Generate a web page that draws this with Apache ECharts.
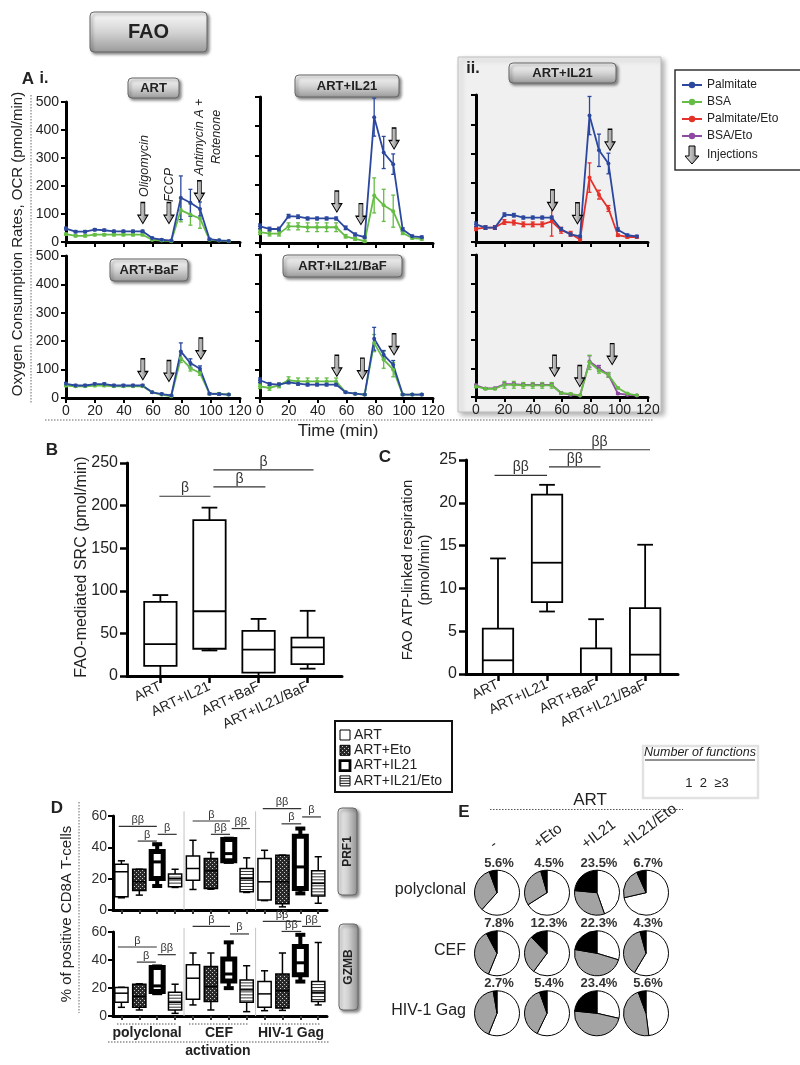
<!DOCTYPE html>
<html>
<head>
<meta charset="utf-8">
<script src="https://cdn.jsdelivr.net/npm/echarts@6/dist/echarts.min.js"></script>
<style>
html, body { margin: 0; padding: 0; background: #fff; }
#c { width: 800px; height: 1065px; }
</style>
</head>
<body>
<div id="c"></div>
<script>
// ---- A: OCR time courses (pmol/min) ----
var time = [0, 6.6, 13.2, 19.8, 26.4, 33, 39.6, 46.2, 52.8, 59.4, 66, 72.6, 79.2, 85.8, 92.4, 99, 105.6, 112.2];

var artPalm    = [48, 37, 37, 44, 42, 38, 38, 38, 38, 14, 8, 5, 158, 140, 118, 10, 6, 4];
var artPalmErr = [5, 4, 4, 4, 4, 4, 4, 4, 4, 3, 3, 2, 78, 48, 25, 3, 3, 2];
var artBsa     = [28, 22, 22, 26, 26, 26, 26, 26, 26, 8, 5, 3, 114, 98, 84, 8, 5, 3];
var artBsaErr  = [4, 4, 4, 4, 4, 4, 4, 4, 4, 3, 2, 2, 42, 38, 35, 3, 2, 2];

var il21Palm    = [57, 48, 48, 92, 90, 84, 84, 84, 84, 52, 29, 20, 431, 310, 270, 46, 23, 20];
var il21PalmErr = [8, 6, 6, 6, 6, 5, 5, 5, 5, 6, 5, 4, 65, 55, 35, 6, 4, 4];
var il21Bsa     = [37, 32, 32, 57, 57, 54, 54, 54, 54, 23, 14, 6, 163, 129, 109, 34, 17, 14];
var il21BsaErr  = [8, 8, 8, 12, 12, 15, 15, 15, 15, 6, 5, 4, 60, 55, 55, 5, 4, 4];

var iiPalm       = [60, 49, 49, 93, 91, 83, 83, 83, 83, 43, 26, 19, 430, 312, 267, 42, 23, 19];
var iiPalmErr    = [8, 6, 6, 6, 6, 5, 5, 5, 5, 6, 5, 4, 65, 55, 35, 6, 4, 4];
var iiPalmEto    = [45, 49, 49, 68, 66, 60, 60, 60, 70, 40, 28, 9, 219, 161, 114, 23, 17, 17];
var iiPalmEtoErr = [6, 6, 6, 8, 8, 8, 8, 8, 50, 10, 8, 5, 50, 15, 10, 4, 4, 4];

var bafPalm    = [50, 44, 44, 49, 49, 44, 44, 44, 44, 20, 14, 9, 164, 123, 103, 15, 14, 12];
var bafPalmErr = [5, 4, 4, 4, 4, 4, 4, 4, 4, 3, 3, 3, 30, 15, 10, 3, 4, 3];
var bafBsa     = [44, 41, 41, 44, 44, 41, 41, 41, 41, 20, 12, 6, 140, 105, 88, 15, 15, 12];
var bafBsaErr  = [4, 3, 3, 4, 4, 3, 3, 3, 3, 3, 3, 2, 15, 10, 8, 3, 3, 2];

var il21bafPalm    = [62, 49, 47, 55, 50, 47, 47, 47, 47, 20, 15, 12, 207, 151, 116, 12, 12, 12];
var il21bafPalmErr = [8, 5, 5, 5, 5, 5, 5, 5, 5, 3, 3, 3, 40, 15, 15, 3, 3, 3];
var il21bafBsa     = [41, 35, 44, 62, 58, 58, 58, 58, 58, 20, 15, 12, 192, 134, 99, 12, 12, 12];
var il21bafBsaErr  = [8, 8, 8, 12, 12, 12, 12, 12, 12, 3, 3, 3, 30, 30, 25, 3, 3, 3];

var iiBsa       = [37, 29, 29, 43, 43, 41, 41, 41, 41, 14, 11, 5, 122, 94, 78, 32, 12, 6];
var iiBsaErr    = [4, 3, 3, 12, 12, 10, 10, 10, 10, 3, 3, 2, 25, 10, 8, 3, 3, 2];
var iiBsaEto    = [41, 30, 31, 45, 45, 43, 43, 43, 43, 14, 8, 5, 125, 101, 78, 12, 8, 5];
var iiBsaEtoErr = [4, 3, 3, 5, 5, 5, 5, 5, 5, 3, 3, 2, 20, 10, 8, 3, 3, 2];

// injection arrows: [time, arrow tip OCR]
var artArrows     = [[53, 66], [71, 66], [92, 144]];
var il21Arrows    = [[53.3, 106], [70, 63], [93, 322]];
var iiTopArrows   = [[53.4, 106], [70.8, 62], [93.5, 312]];
var bafArrows     = [[53, 64], [71, 58], [93, 137]];
var il21bafArrows = [[53.3, 76], [71, 66], [93, 151]];
var iiBotArrows   = [[54.8, 73], [72.4, 37], [95, 114]];

// ---- B / C: box plots [min, q1, median, q3, max] ----
var bcCategories = ['ART', 'ART+IL21', 'ART+BaF', 'ART+IL21/BaF'];
var srcBoxes = [[0, 12, 37.5, 87, 95], [30, 32, 76, 183, 197.6], [0, 4, 31, 53, 67], [8.6, 14, 33.6, 45, 76.5]];
var atpBoxes = [[0, 0, 1.6, 5.3, 13.5], [7.3, 8.4, 13, 20.95, 22.1], [0, 0, 0, 3, 6.4], [0, 0, 2.26, 7.7, 15.1]];
// brackets: [from, to, level]
var srcBrackets = [[0.98, 2.02, 211], [2.08, 3.14, 222], [2.08, 4.12, 242]];
var srcBracketText = ['β', 'β', 'β'];
var atpBrackets = [[0.93, 2.0, 23.2], [2.04, 3.09, 24.2], [2.04, 4.1, 26.2]];
var atpBracketText = ['ββ', 'ββ', 'ββ'];

// ---- D: % positive CD8A T-cells ----
var dGroups = ['polyclonal', 'CEF', 'HIV-1 Gag'];
var dTreatments = ['ART', 'ART+Eto', 'ART+IL21', 'ART+IL21/Eto'];
var prf1Boxes = [
  [7.8, 8.5, 24.4, 29.2, 31.4], [9.5, 12.5, 18, 26, 26], [15.3, 20.1, 30.7, 37.3, 42], [14.4, 14.8, 20, 22.9, 26],
  [13.1, 19, 26.5, 34.5, 44.5], [13.3, 13.8, 25, 32.8, 36.7], [30.7, 31.4, 36, 45, 45.5], [11.2, 11.7, 20, 26.5, 33.3],
  [6, 6.4, 18, 32.8, 38.1], [2, 4, 18, 35, 35], [10.6, 13.8, 27.5, 47, 52], [4.3, 8.9, 17, 25, 34]
];
var gzmbBoxes = [
  [6.2, 9.8, 16.3, 20.3, 20.5], [4.3, 6.2, 14, 22.7, 23], [16.3, 17.5, 21.5, 34.7, 35.4], [1.9, 4.3, 9.8, 17, 22.7],
  [7.9, 12, 27, 36.6, 45], [4.3, 10.3, 21, 35.4, 45], [19.9, 25, 30, 40.7, 52.6], [3.1, 9.8, 18.7, 25.8, 35.9],
  [3.8, 6.2, 15.8, 24.6, 32.3], [4, 5.7, 18, 30, 45], [24.6, 29.4, 38, 49.7, 58], [7.9, 10.3, 17, 24.6, 52.5]
];
var prf1Brackets = [[0.85, 2.98, 53.4], [1.91, 2.98, 44], [3.03, 4.09, 48.3], [4.98, 7.07, 56.8], [6.0, 7.07, 48.3], [7.16, 8.18, 52],
  [8.9, 11.05, 64.7], [9.95, 11.05, 55], [11.1, 12.15, 59.4]];
var prf1BracketText = ['ββ', 'β', 'β', 'β', 'ββ', 'ββ', 'ββ', 'β', 'β'];
var gzmbBrackets = [[0.8, 2.98, 49.3], [1.86, 2.92, 38.5], [3.03, 4.04, 43.8], [4.98, 7.07, 64], [7.07, 8.13, 58.6],
  [8.9, 11.05, 67.6], [9.95, 11.05, 60.4], [11.1, 12.15, 64]];
var gzmbBracketText = ['β', 'β', 'ββ', 'β', 'β', 'ββ', 'ββ', 'ββ'];

// ---- E: number of functions (% of cells) ----
var eRows = ['polyclonal', 'CEF', 'HIV-1 Gag'];
var eCols = ['-', '+Eto', '+IL21', '+IL21/Eto'];
var eOne   = [[61.6, 66, 44.6, 71.4], [56.2, 60.1, 29.7, 58.6], [56.1, 57.2, 28.6, 48]];
var eTwo   = [[32.8, 29.5, 31.9, 21.9], [36, 27.6, 48, 37.1], [41.2, 37.4, 48, 46.4]];
var eThree = [[5.6, 4.5, 23.5, 6.7], [7.8, 12.3, 22.3, 4.3], [2.7, 5.4, 23.4, 5.6]];

// ---------------------------------------------------------------
var FONT = '"Liberation Sans", Arial, sans-serif';
var BLUE = '#2b489e', GREEN = '#66bd46', RED = '#e4312a', PURPLE = '#8e4aa2';
var ARROW = 'path://M3,0L7,0L7,12L10,12L5,20L0,12L3,12Z';

var chart = echarts.init(document.getElementById('c'));

var checkCanvas = document.createElement('canvas');
checkCanvas.width = 4; checkCanvas.height = 4;
(function () {
  var c = checkCanvas.getContext('2d');
  c.fillStyle = '#2a2a2a'; c.fillRect(0, 0, 4, 4);
  c.fillStyle = '#c8c8c8'; c.fillRect(0, 0, 1, 1); c.fillRect(2, 2, 1, 1);
})();

function arrowFill() {
  return new echarts.graphic.LinearGradient(0, 0, 1, 0, [
    {offset: 0, color: '#eeeeee'}, {offset: 0.5, color: '#b5b5b5'}, {offset: 1, color: '#6e6e6e'}]);
}

var grids = [], xAxes = [], yAxes = [], series = [];

// A grids (pixel layout)
var gridsA = [
  {left: 66, top: 102, width: 174, height: 140},
  {left: 260, top: 97, width: 173, height: 146},
  {left: 476, top: 95, width: 172, height: 147},
  {left: 66, top: 256, width: 174, height: 142},
  {left: 260, top: 255, width: 173, height: 143},
  {left: 476, top: 255, width: 172, height: 142}
];
gridsA.forEach(function (gr, i) {
  grids.push(gr);
  xAxes.push({gridIndex: i, type: 'value', min: 0, max: 120, interval: 20,
    axisLine: {onZero: false, lineStyle: {color: '#000', width: 3}},
    axisTick: {length: 5, lineStyle: {color: '#000', width: 2}},
    axisLabel: {show: i >= 3, fontSize: 14, color: '#222', fontFamily: FONT, margin: 6},
    splitLine: {show: false}});
  yAxes.push({gridIndex: i, type: 'value', min: 0, max: 500, interval: 100,
    axisLine: {show: true, lineStyle: {color: '#000', width: 3}},
    axisTick: {show: true, length: 5, lineStyle: {color: '#000', width: 2}},
    axisLabel: {show: i === 0 || i === 3, fontSize: 14, color: '#222', fontFamily: FONT, margin: 7},
    splitLine: {show: false}});
});

function errRender(color) {
  return function (params, api) {
    var x = api.value(0), y = api.value(1), e = api.value(2);
    var top = api.coord([x, y + e]), bot = api.coord([x, Math.max(0, y - e)]);
    var st = {stroke: color, lineWidth: 1.3};
    return {type: 'group', children: [
      {type: 'line', shape: {x1: top[0], y1: top[1], x2: bot[0], y2: bot[1]}, style: st},
      {type: 'line', shape: {x1: top[0] - 2, y1: top[1], x2: top[0] + 2, y2: top[1]}, style: st},
      {type: 'line', shape: {x1: bot[0] - 2, y1: bot[1], x2: bot[0] + 2, y2: bot[1]}, style: st}
    ]};
  };
}

function addTrace(g, vals, errs, color) {
  series.push({type: 'custom', xAxisIndex: g, yAxisIndex: g, silent: true, z: 3,
    renderItem: errRender(color),
    data: time.map(function (t, i) { return [t, vals[i], errs[i]]; })});
  series.push({type: 'line', xAxisIndex: g, yAxisIndex: g, silent: true, z: 4,
    data: time.map(function (t, i) { return [t, vals[i]]; }),
    symbol: 'circle', symbolSize: 4, lineStyle: {color: color, width: 1.8}, itemStyle: {color: color}});
}

function addArrows(g, pts) {
  series.push({type: 'scatter', xAxisIndex: g, yAxisIndex: g, silent: true, z: 6,
    data: pts, symbol: ARROW, symbolSize: [10, 21], symbolOffset: [0, '-50%'],
    itemStyle: {color: arrowFill(), borderColor: '#000', borderWidth: 1, opacity: 1}});
}

addTrace(0, artBsa, artBsaErr, GREEN); addTrace(0, artPalm, artPalmErr, BLUE); addArrows(0, artArrows);
addTrace(1, il21Bsa, il21BsaErr, GREEN); addTrace(1, il21Palm, il21PalmErr, BLUE); addArrows(1, il21Arrows);
addTrace(2, iiPalmEto, iiPalmEtoErr, RED); addTrace(2, iiPalm, iiPalmErr, BLUE); addArrows(2, iiTopArrows);
addTrace(3, bafBsa, bafBsaErr, GREEN); addTrace(3, bafPalm, bafPalmErr, BLUE); addArrows(3, bafArrows);
addTrace(4, il21bafBsa, il21bafBsaErr, GREEN); addTrace(4, il21bafPalm, il21bafPalmErr, BLUE); addArrows(4, il21bafArrows);
addTrace(5, iiBsaEto, iiBsaEtoErr, PURPLE); addTrace(5, iiBsa, iiBsaErr, GREEN); addArrows(5, iiBotArrows);

// ---- box plot helpers ----
function boxRender(widthU, capU, lw, kinds) {
  return function (params, api) {
    var x = api.value(0);
    var kind = kinds ? kinds[params.dataIndex % 4] : 'plain';
    var p = [1, 2, 3, 4, 5].map(function (d) { return api.coord([x, api.value(d)]); });
    var half = api.size([widthU, 0])[0] / 2, cap = api.size([capU, 0])[0] / 2;
    var cx = p[0][0];
    var w = lw;
    if (kind === 'bold') { w = 5; half = 6; cap = 5; }
    var st = {stroke: '#000', lineWidth: kind === 'bold' ? 4 : w};
    var fill = kind === 'check' ? {image: checkCanvas, repeat: 'repeat'} : '#fff';
    var ch = [
      {type: 'line', shape: {x1: cx, y1: p[3][1], x2: cx, y2: p[4][1]}, style: st},
      {type: 'line', shape: {x1: cx - cap, y1: p[4][1], x2: cx + cap, y2: p[4][1]}, style: st},
      {type: 'line', shape: {x1: cx, y1: p[1][1], x2: cx, y2: p[0][1]}, style: st},
      {type: 'line', shape: {x1: cx - cap, y1: p[0][1], x2: cx + cap, y2: p[0][1]}, style: st},
      {type: 'rect', shape: {x: cx - half, y: p[3][1], width: 2 * half, height: p[1][1] - p[3][1]},
        style: {fill: fill, stroke: '#000', lineWidth: w}}
    ];
    if (kind === 'stripe') {
      for (var yy = p[3][1] + 3; yy < p[1][1] - 1; yy += 3) {
        ch.push({type: 'line', shape: {x1: cx - half, y1: yy, x2: cx + half, y2: yy}, style: {stroke: '#000', lineWidth: 0.8}});
      }
    }
    ch.push({type: 'line', shape: {x1: cx - half, y1: p[2][1], x2: cx + half, y2: p[2][1]},
      style: {stroke: '#000', lineWidth: kind === 'bold' ? 3 : lw}});
    return {type: 'group', children: ch};
  };
}

function bracketRender(labels, fs) {
  return function (params, api) {
    var a = api.coord([api.value(0), api.value(2)]), b = api.coord([api.value(1), api.value(2)]);
    return {type: 'group', children: [
      {type: 'line', shape: {x1: a[0], y1: a[1], x2: b[0], y2: b[1]}, style: {stroke: '#333', lineWidth: 1.2}},
      {type: 'text', x: (a[0] + b[0]) / 2, y: a[1] - 1,
        style: {text: labels[params.dataIndex], textAlign: 'center', textVerticalAlign: 'bottom',
          fontSize: fs, fontFamily: FONT, fill: '#333'}}
    ]};
  };
}

function boxData(boxes) {
  return boxes.map(function (b, i) { return [i + 1].concat(b); });
}

// B (grid 6) and C (grid 7)
grids.push({left: 127, top: 463, width: 215, height: 213});
grids.push({left: 466, top: 460, width: 212, height: 214});
[[6, 0.32, 4.7, 250, 50], [7, 0.348, 4.67, 25, 5]].forEach(function (c) {
  xAxes.push({gridIndex: c[0], type: 'value', min: c[1], max: c[2],
    axisLine: {onZero: false, lineStyle: {color: '#000', width: 3}},
    axisTick: {customValues: [1, 2, 3, 4], length: 7, lineStyle: {color: '#000', width: 2.5}},
    axisLabel: {customValues: [1, 2, 3, 4], rotate: 25, fontSize: 14, color: '#222', fontFamily: FONT, margin: 10,
      formatter: function (v) { return bcCategories[Math.round(v) - 1]; }},
    splitLine: {show: false}});
  yAxes.push({gridIndex: c[0], type: 'value', min: 0, max: c[3], interval: c[4],
    axisLine: {show: true, lineStyle: {color: '#000', width: 3}},
    axisTick: {show: true, length: 7, lineStyle: {color: '#000', width: 2.5}},
    axisLabel: {fontSize: 16, color: '#222', fontFamily: FONT, margin: 9},
    splitLine: {show: false}});
});
series.push({type: 'custom', xAxisIndex: 6, yAxisIndex: 6, silent: true, clip: false, z: 5,
  renderItem: boxRender(0.66, 0.32, 1.8), data: boxData(srcBoxes)});
series.push({type: 'custom', xAxisIndex: 6, yAxisIndex: 6, silent: true, clip: false, z: 5,
  renderItem: bracketRender(srcBracketText, 14), data: srcBrackets});
series.push({type: 'custom', xAxisIndex: 7, yAxisIndex: 7, silent: true, clip: false, z: 5,
  renderItem: boxRender(0.62, 0.32, 1.8), data: boxData(atpBoxes)});
series.push({type: 'custom', xAxisIndex: 7, yAxisIndex: 7, silent: true, clip: false, z: 5,
  renderItem: bracketRender(atpBracketText, 14), data: atpBrackets});

// D (grids 8, 9)
grids.push({left: 113, top: 816, width: 214, height: 94});
grids.push({left: 113, top: 932, width: 214, height: 84});
var dTicks = [1, 2, 3, 4, 5, 6, 7, 8, 9, 10, 11, 12];
var dKinds = ['plain', 'check', 'bold', 'stripe'];
[8, 9].forEach(function (g) {
  xAxes.push({gridIndex: g, type: 'value', min: 0.53, max: 12.49,
    axisLine: {onZero: false, lineStyle: {color: '#000', width: 3}},
    axisTick: {customValues: dTicks, length: 4, lineStyle: {color: '#333', width: 2}},
    axisLabel: {show: false}, splitLine: {show: false}});
  yAxes.push({gridIndex: g, type: 'value', min: 0, max: 60, interval: 20,
    axisLine: {show: true, lineStyle: {color: '#000', width: 3}},
    axisTick: {show: true, length: 5, lineStyle: {color: '#000', width: 2}},
    axisLabel: {fontSize: 14, color: '#333', fontFamily: FONT, margin: 6},
    splitLine: {show: false}});
  series.push({type: 'custom', xAxisIndex: g, yAxisIndex: g, silent: true, clip: false, z: 3,
    renderItem: function (params, api) {
      var a = api.coord([api.value(0), 0]), b = api.coord([api.value(0), api.value(1)]);
      return {type: 'line', shape: {x1: a[0], y1: a[1], x2: b[0], y2: b[1]}, style: {stroke: '#c4c4c4', lineWidth: 1}};
    },
    data: [[4.5, 63], [8.5, 63]]});
});
series.push({type: 'custom', xAxisIndex: 8, yAxisIndex: 8, silent: true, clip: false, z: 5,
  renderItem: boxRender(0.74, 0.4, 1.5, dKinds), data: boxData(prf1Boxes)});
series.push({type: 'custom', xAxisIndex: 8, yAxisIndex: 8, silent: true, clip: false, z: 5,
  renderItem: bracketRender(prf1BracketText, 11), data: prf1Brackets});
series.push({type: 'custom', xAxisIndex: 9, yAxisIndex: 9, silent: true, clip: false, z: 5,
  renderItem: boxRender(0.74, 0.4, 1.5, dKinds), data: boxData(gzmbBoxes)});
series.push({type: 'custom', xAxisIndex: 9, yAxisIndex: 9, silent: true, clip: false, z: 5,
  renderItem: bracketRender(gzmbBracketText, 11), data: gzmbBrackets});

// E pies
var pieX = [497, 547, 597, 646], pieY = [892.7, 953.3, 1013.3];
eRows.forEach(function (r, ri) {
  eCols.forEach(function (c, ci) {
    series.push({type: 'pie', center: [pieX[ci], pieY[ri]], radius: 22.5, startAngle: 90, clockwise: true,
      silent: true, label: {show: false}, labelLine: {show: false},
      itemStyle: {borderColor: '#000', borderWidth: 1},
      data: [
        {name: '1', value: eOne[ri][ci], itemStyle: {color: '#fff'}},
        {name: '2', value: eTwo[ri][ci], itemStyle: {color: '#a3a3a3'}},
        {name: '≥3', value: eThree[ri][ci], itemStyle: {color: '#000'}}
      ]});
  });
});

// ---- graphic annotations ----
var g = [];
function text(x, y, s, o) {
  o = o || {};
  return {type: 'text', x: x, y: y, z: 100, rotation: o.rot || 0,
    style: {text: s, fontSize: o.fs || 14, fontWeight: o.bold ? 'bold' : 'normal', fontStyle: o.italic ? 'italic' : 'normal',
      fontFamily: FONT, fill: o.fill || '#222', textAlign: o.align || 'center', textVerticalAlign: o.va || 'middle',
      lineHeight: o.lh || undefined}};
}
function line(x1, y1, x2, y2, o) {
  o = o || {};
  return {type: 'line', z: o.z || 100, shape: {x1: x1, y1: y1, x2: x2, y2: y2},
    style: {stroke: o.stroke || '#555', lineWidth: o.lw || 1, lineDash: o.dash || null}};
}
function button(x, y, w, h, label, fs, vertical) {
  var grad = vertical
    ? new echarts.graphic.LinearGradient(0, 0, 1, 0, [{offset: 0, color: '#f4f4f4'}, {offset: 0.5, color: '#d0d0d0'}, {offset: 1, color: '#8e8e8e'}])
    : new echarts.graphic.LinearGradient(0, 0, 0, 1, [{offset: 0, color: '#fbfbfb'}, {offset: 0.5, color: '#d4d4d4'}, {offset: 1, color: '#999'}]);
  return {type: 'group', x: x, y: y, z: 100, children: [
    {type: 'rect', shape: {x: 0, y: 0, width: w, height: h, r: 4},
      style: {fill: grad, stroke: '#666', lineWidth: 1, shadowBlur: 3, shadowOffsetX: 2, shadowOffsetY: 2, shadowColor: 'rgba(0,0,0,0.45)'}},
    {type: 'text', x: w / 2, y: h / 2, rotation: vertical ? Math.PI / 2 : 0,
      style: {text: label, fontSize: fs, fontWeight: 'bold', fontFamily: FONT, fill: '#222', textAlign: 'center', textVerticalAlign: 'middle'}}
  ]};
}
var DOT = [1.5, 1.5];

// panel ii background
g.push({type: 'rect', z: -10, shape: {x: 458, y: 57, width: 203, height: 355},
  style: {fill: '#f0f0f0', stroke: '#bdbdbd', lineWidth: 1, shadowBlur: 5, shadowOffsetX: 3, shadowOffsetY: 3, shadowColor: 'rgba(0,0,0,0.3)'}});

g.push(button(90, 12, 117, 40, 'FAO', 20));
g.push(text(28, 79, 'A', {bold: true, fs: 17}));
g.push(text(44, 79, 'i.', {bold: true, fs: 16}));
g.push(text(473, 69, 'ii.', {bold: true, fs: 16}));
g.push(button(128, 78, 51, 20, 'ART', 13));
g.push(button(295, 75, 104, 22, 'ART+IL21', 13));
g.push(button(509, 63, 107, 20, 'ART+IL21', 13));
g.push(button(110, 259, 78, 22, 'ART+BaF', 13));
g.push(button(283, 255, 119, 22, 'ART+IL21/BaF', 13));
g.push(text(145, 166, 'Oligomycin', {italic: true, fs: 12.5, rot: Math.PI / 2}));
g.push(text(170, 185, 'FCCP', {italic: true, fs: 12.5, rot: Math.PI / 2}));
g.push(text(208, 137, 'Antimycin A +\nRotenone', {italic: true, fs: 12.5, rot: Math.PI / 2, lh: 17}));
g.push(text(18, 244, 'Oxygen Consumption Rates, OCR (pmol/min)', {fs: 15, rot: Math.PI / 2}));
g.push(line(31, 95, 31, 403, {dash: DOT, stroke: '#666'}));
g.push(line(45, 420, 653, 420, {dash: DOT, stroke: '#666'}));
g.push(text(338, 431, 'Time (min)', {fs: 17}));

// A legend
g.push({type: 'rect', z: 100, shape: {x: 675, y: 70, width: 130, height: 100}, style: {fill: '#fff', stroke: '#333', lineWidth: 1.5}});
[['Palmitate', BLUE], ['BSA', GREEN], ['Palmitate/Eto', RED], ['BSA/Eto', PURPLE]].forEach(function (it, i) {
  var y = 85 + i * 17;
  g.push(line(682, y, 702, y, {stroke: it[1], lw: 2, z: 101}));
  g.push({type: 'circle', z: 102, shape: {cx: 692, cy: y, r: 3.2}, style: {fill: it[1]}});
  g.push(text(707, y, it[0], {fs: 12, align: 'left'}));
});
g.push({type: 'polygon', z: 101, shape: {points: [[689, 146], [695, 146], [695, 156], [699, 156], [692, 164], [685, 156], [689, 156]]},
  style: {fill: arrowFill(), stroke: '#000', lineWidth: 1}});
g.push(text(707, 155, 'Injections', {fs: 12, align: 'left'}));

// B / C labels
g.push(text(52, 450, 'B', {bold: true, fs: 17}));
g.push(text(82, 567, 'FAO-mediated SRC (pmol/min)', {fs: 16, rot: Math.PI / 2}));
g.push(text(385, 457, 'C', {bold: true, fs: 17}));
g.push(text(416, 570, 'FAO ATP-linked respiration\n(pmol/min)', {fs: 15, rot: Math.PI / 2, lh: 17}));

// D legend
g.push({type: 'rect', z: 100, shape: {x: 335, y: 721, width: 117, height: 71}, style: {fill: '#fff', stroke: '#111', lineWidth: 2}});
dTreatments.forEach(function (name, i) {
  var y = 735 + i * 15.3;
  var fill = i === 1 ? {image: checkCanvas, repeat: 'repeat'} : '#fff';
  g.push({type: 'rect', z: 101, shape: {x: 340, y: y - 5, width: 10, height: 10},
    style: {fill: fill, stroke: '#000', lineWidth: i === 2 ? 2.8 : 1}});
  if (i === 3) {
    [y - 2.5, y, y + 2.5].forEach(function (yy) { g.push(line(340, yy, 350, yy, {stroke: '#000', lw: 0.9, z: 102})); });
  }
  g.push(text(354, y, name, {fs: 14, align: 'left'}));
});

// number of functions key
g.push({type: 'rect', z: 100, shape: {x: 643, y: 746, width: 115, height: 52}, style: {fill: '#fff', stroke: '#e2e2e2', lineWidth: 2.5}});
g.push(text(700, 753, 'Number of functions', {fs: 12.5, italic: true}));
g.push(line(645, 760, 755, 760, {stroke: '#222', lw: 1, z: 101}));
g.push(text(707, 783, '1  2  ≥3', {fs: 13}));

// D decoration
g.push(text(57, 808, 'D', {bold: true, fs: 17}));
g.push(text(67, 914, '% of positive CD8A T-cells', {fs: 15, rot: Math.PI / 2}));
g.push(line(79, 802, 79, 1013, {dash: DOT, stroke: '#666'}));
g.push(button(338, 808, 19, 87, 'PRF1', 12, true));
g.push(button(339, 924, 19, 86, 'GZMB', 12, true));
var dGroupX = [147, 219, 291];
dGroups.forEach(function (name, i) {
  g.push(line(dGroupX[i] - 30, 1024, dGroupX[i] + 30, 1024, {dash: DOT, stroke: '#555'}));
  g.push(text(dGroupX[i], 1033, name, {fs: 14, bold: true}));
});
g.push(line(108, 1042, 330, 1042, {dash: DOT, stroke: '#555'}));
g.push(text(218, 1051, 'activation', {fs: 14, bold: true}));

// E decoration
g.push(text(464, 812, 'E', {bold: true, fs: 17}));
g.push(text(590, 800, 'ART', {fs: 17}));
g.push(line(490, 809.5, 683, 809.5, {dash: DOT, stroke: '#555'}));
var colStartX = [496, 540, 588, 628];
eCols.forEach(function (c, ci) {
  g.push(text(colStartX[ci], 852, c, {fs: 15, align: 'left', va: 'bottom', rot: 37 * Math.PI / 180}));
});
eRows.forEach(function (r, ri) {
  g.push(text(466, pieY[ri] - 3, r, {fs: 16, align: 'right'}));
  eCols.forEach(function (c, ci) {
    g.push(text(pieX[ci] + 2, pieY[ri] - 29.5, eThree[ri][ci].toFixed(1) + '%', {fs: 13, bold: true, fill: '#333'}));
  });
});

chart.setOption({
  animation: false,
  backgroundColor: '#fff',
  textStyle: {fontFamily: FONT},
  grid: grids,
  xAxis: xAxes,
  yAxis: yAxes,
  series: series,
  graphic: {elements: g}
});
</script>
</body>
</html>
